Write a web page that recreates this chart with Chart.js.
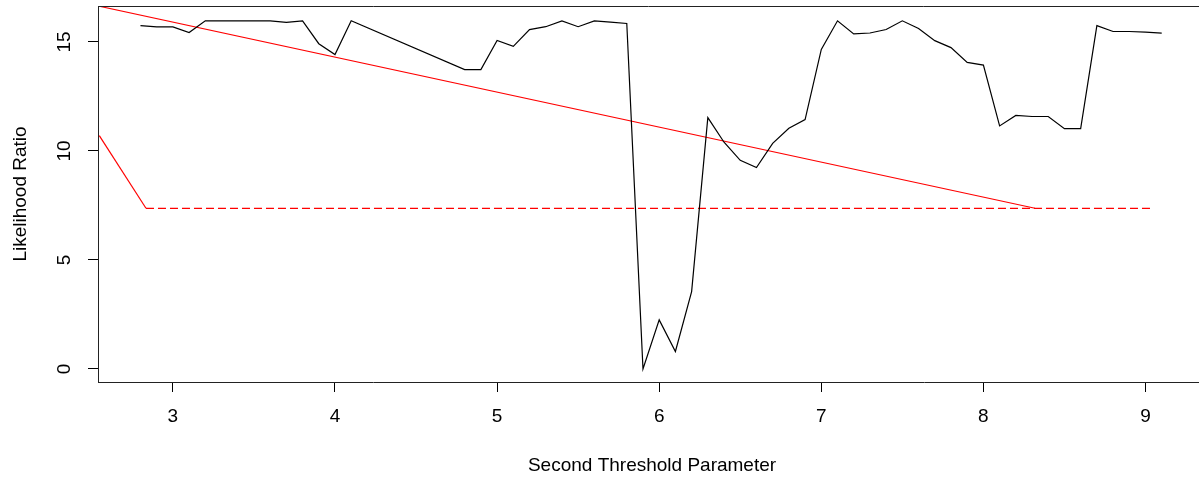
<!DOCTYPE html>
<html>
<head>
<meta charset="utf-8">
<script src="https://cdn.jsdelivr.net/npm/chart.js@4.4.1/dist/chart.umd.min.js"></script>
<style>
  html, body { margin: 0; padding: 0; background: #fff; }
  #wrap { width: 1199px; height: 480px; position: relative; }
</style>
</head>
<body>
<div id="wrap"><canvas id="c" width="1199" height="480"></canvas></div>
<script>
// ---- data ----
const lrX = [2.8, 2.9, 3.0, 3.1, 3.2, 3.3, 3.4, 3.5, 3.6, 3.7, 3.8, 3.9, 4.0, 4.1,
             4.8, 4.9, 5.0, 5.1, 5.2, 5.3, 5.4, 5.5, 5.6, 5.7, 5.8, 5.9, 6.0, 6.1,
             6.2, 6.3, 6.4, 6.5, 6.6, 6.7, 6.8, 6.9, 7.0, 7.1, 7.2, 7.3, 7.4, 7.5,
             7.6, 7.7, 7.8, 7.9, 8.0, 8.1, 8.2, 8.3, 8.4, 8.5, 8.6, 8.7, 8.8, 8.9,
             9.0, 9.1];
const lrY = [15.75, 15.69, 15.69, 15.43, 15.97, 15.97, 15.97, 15.97, 15.97, 15.90, 15.97, 14.92, 14.42, 15.97,
             13.73, 13.73, 15.07, 14.80, 15.57, 15.70, 15.97, 15.70, 15.97, 15.91, 15.85, 0.00, 2.25, 0.80,
             3.55, 11.53, 10.40, 9.57, 9.24, 10.35, 11.04, 11.44, 14.66, 15.97, 15.37, 15.41, 15.57, 15.97,
             15.62, 15.06, 14.74, 14.06, 13.94, 11.15, 11.63, 11.58, 11.58, 11.02, 11.02, 15.75, 15.48, 15.48,
             15.45, 15.41];

const slopeX = [2.538, 8.318];
const slopeY = [16.65, 7.37];

const dropX = [2.546, 2.834];
const dropY = [10.70, 7.37];

const flatX = [2.834, 9.047];
const flatY = [7.37, 7.37];

const xTicks = [3, 4, 5, 6, 7, 8, 9];
const yTicks = [0, 5, 10, 15];
const xTitle = "Second Threshold Parameter";
const yTitle = "Likelihood Ratio";

const pts = (xs, ys) => xs.map((x, i) => ({ x: x, y: ys[i] }));

const FONT = '19px "Liberation Sans", Arial, sans-serif';

const labelsPlugin = {
  id: 'rLabels',
  afterDraw(chart) {
    const ctx = chart.ctx;
    const xs = chart.scales.x, ys = chart.scales.y;
    const a = chart.chartArea;
    ctx.save();
    // top border of box
    ctx.strokeStyle = '#222';
    ctx.lineWidth = 1;
    ctx.beginPath();
    ctx.moveTo(a.left, a.top + 0.5);
    ctx.lineTo(a.right, a.top + 0.5);
    ctx.stroke();

    ctx.fillStyle = '#000';
    ctx.font = FONT;
    ctx.textAlign = 'center';
    ctx.textBaseline = 'middle';
    xTicks.forEach(v => {
      ctx.fillText(String(v), xs.getPixelForValue(v), 417);
    });
    ctx.fillText(xTitle, 652, 466);
    yTicks.forEach(v => {
      const py = ys.getPixelForValue(v);
      ctx.save();
      ctx.translate(65, py);
      ctx.rotate(-Math.PI / 2);
      ctx.fillText(String(v), 0, 0);
      ctx.restore();
    });
    ctx.save();
    ctx.translate(21, (a.top + a.bottom) / 2);
    ctx.rotate(-Math.PI / 2);
    ctx.fillText(yTitle, 0, 0);
    ctx.restore();
    ctx.restore();
  }
};

new Chart(document.getElementById('c'), {
  type: 'scatter',
  data: {
    datasets: [
      { data: pts(lrX, lrY), showLine: true, borderColor: '#000', borderWidth: 1.2, pointRadius: 0, tension: 0 },
      { data: pts(slopeX, slopeY), showLine: true, borderColor: '#ff0000', borderWidth: 1.2, pointRadius: 0 },
      { data: pts(dropX, dropY), showLine: true, borderColor: '#ff0000', borderWidth: 1.2, pointRadius: 0 },
      { data: pts(flatX, flatY), showLine: true, borderColor: '#ff0000', borderWidth: 1.2, borderDash: [8, 4], pointRadius: 0 }
    ]
  },
  options: {
    responsive: false,
    animation: false,
    events: [],
    layout: { padding: { top: 6, right: 0, left: 0, bottom: 0 } },
    plugins: { legend: { display: false }, tooltip: { enabled: false } },
    scales: {
      x: {
        type: 'linear',
        min: 2.538,
        max: 9.33,
        afterBuildTicks: s => { s.ticks = xTicks.map(v => ({ value: v })); },
        afterFit: s => { s.height = 98; },
        ticks: { display: false },
        grid: { display: true, drawOnChartArea: false, drawTicks: true, tickLength: 10, color: '#000', lineWidth: 1 },
        border: { display: true, color: '#222', width: 1 }
      },
      y: {
        type: 'linear',
        min: -0.6,
        max: 16.65,
        afterBuildTicks: s => { s.ticks = yTicks.map(v => ({ value: v })); },
        afterFit: s => { s.width = 98; },
        ticks: { display: false },
        grid: { display: true, drawOnChartArea: false, drawTicks: true, tickLength: 10, color: '#000', lineWidth: 1 },
        border: { display: true, color: '#222', width: 1 }
      }
    }
  },
  plugins: [labelsPlugin]
});
</script>
</body>
</html>
